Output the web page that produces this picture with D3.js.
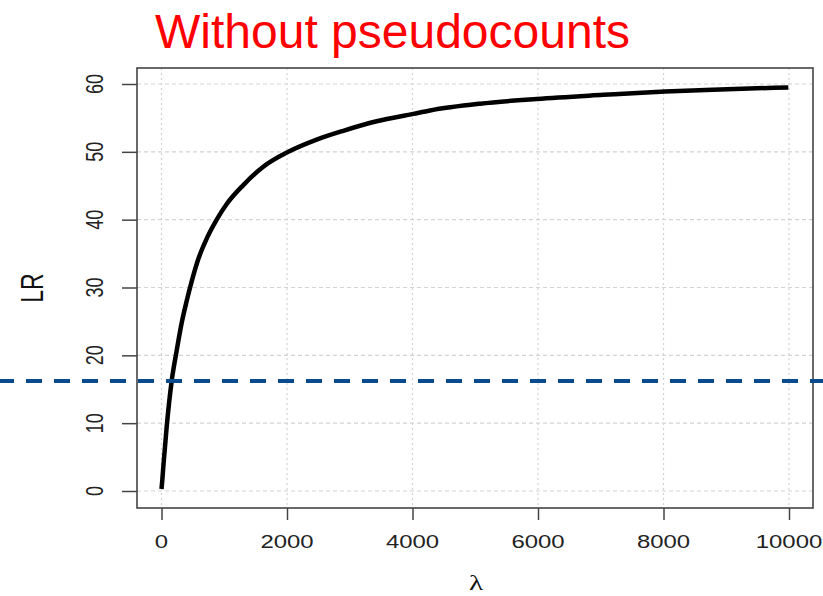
<!DOCTYPE html>
<html>
<head>
<meta charset="utf-8">
<script src="https://cdn.jsdelivr.net/npm/d3@7"></script>
<style>
  html, body { margin: 0; padding: 0; background: #fff; }
  svg { display: block; }
</style>
</head>
<body>
<svg id="chart" width="823" height="596"></svg>
<script>
// Likelihood ratio as a function of lambda
const lambdaValues = [0, 10, 29, 83, 162, 242, 322, 401, 481, 587, 720, 880, 1039, 1304, 1622, 2021, 2473, 2897, 3429, 4013, 4279, 5076, 5979, 7040, 8024, 8901, 9989];
const lrValues     = [0.3, 1.3, 3.6, 9.5, 16.2, 20.7, 24.8, 28.0, 30.9, 34.2, 37.2, 40.0, 42.3, 45.1, 47.8, 50.0, 51.8, 53.1, 54.5, 55.6, 56.1, 57.1, 57.8, 58.4, 58.9, 59.2, 59.5];

const xTicks = [0, 2000, 4000, 6000, 8000, 10000];
const yTicks = [0, 10, 20, 30, 40, 50, 60];
const threshold = 16.2;

const titleText = "Without pseudocounts";
const xLabel = "\u03bb";
const yLabel = "LR";

const svg = d3.select("#chart");
const box = { left: 137, right: 813, top: 68, bottom: 508 };
const sx = 1.33; // horizontal stretch of axis text

const x = d3.scaleLinear().domain([0, 10000]).range([161.5, 789]);
const y = d3.scaleLinear().domain([0, 60]).range([491, 84]);

// Grid
const grid = svg.append("g");
grid.selectAll("line.vg").data(xTicks).join("line")
  .attr("x1", d => x(d)).attr("x2", d => x(d))
  .attr("y1", box.top).attr("y2", box.bottom)
  .attr("stroke", "#d3d3d3").attr("stroke-width", 1.2)
  .attr("stroke-dasharray", "2,3");
grid.selectAll("line.hg").data(yTicks).join("line")
  .attr("x1", box.left).attr("x2", box.right)
  .attr("y1", d => y(d)).attr("y2", d => y(d))
  .attr("stroke", "#d3d3d3").attr("stroke-width", 1.2)
  .attr("stroke-dasharray", "4,3");

// Axes (ticks only; the frame is drawn separately)
const xAxis = svg.append("g").attr("transform", `translate(0,${box.bottom})`)
  .call(d3.axisBottom(x).tickValues(xTicks).tickSize(12).tickFormat(""));
const yAxis = svg.append("g").attr("transform", `translate(${box.left},0)`)
  .call(d3.axisLeft(y).tickValues(yTicks).tickSize(15).tickFormat(""));
[xAxis, yAxis].forEach(a => {
  a.select(".domain").remove();
  a.selectAll(".tick line").attr("stroke", "#444").attr("stroke-width", 1.5);
});

// Tick labels
svg.append("g").selectAll("text").data(xTicks).join("text")
  .attr("transform", d => `translate(${x(d)},548) scale(${sx},1)`)
  .attr("text-anchor", "middle")
  .attr("font-family", "Liberation Sans, Arial, sans-serif")
  .attr("font-size", 18).attr("fill", "#222")
  .text(d => d);
svg.append("g").selectAll("text").data(yTicks).join("text")
  .attr("transform", d => `translate(103,${y(d)}) scale(${sx},1) rotate(-90)`)
  .attr("text-anchor", "middle")
  .attr("font-family", "Liberation Sans, Arial, sans-serif")
  .attr("font-size", 18).attr("fill", "#222")
  .text(d => d);

// Frame
svg.append("rect")
  .attr("x", box.left).attr("y", box.top)
  .attr("width", box.right - box.left).attr("height", box.bottom - box.top)
  .attr("fill", "none").attr("stroke", "#444").attr("stroke-width", 1.6);

// Curve
const pts = lambdaValues.map((l, i) => [l, lrValues[i]]);
svg.append("path")
  .datum(pts)
  .attr("d", d3.line().x(d => x(d[0])).y(d => y(d[1])).curve(d3.curveMonotoneX))
  .attr("fill", "none").attr("stroke", "#000").attr("stroke-width", 4.5)
  .attr("stroke-linejoin", "round");

// Threshold line across the full width
svg.append("line")
  .attr("x1", 0).attr("x2", 823)
  .attr("y1", y(threshold)).attr("y2", y(threshold))
  .attr("stroke", "#0a4b8e").attr("stroke-width", 4)
  .attr("stroke-dasharray", "16,12").attr("stroke-dashoffset", 2);

// Axis titles
svg.append("text")
  .attr("transform", `translate(43,${(box.top + box.bottom) / 2}) scale(${sx},1) rotate(-90)`)
  .attr("text-anchor", "middle")
  .attr("font-family", "Liberation Sans, Arial, sans-serif")
  .attr("font-size", 23).attr("fill", "#111")
  .text(yLabel);
svg.append("text")
  .attr("transform", `translate(476,590) scale(${sx},1)`)
  .attr("text-anchor", "middle")
  .attr("font-family", "Liberation Serif, DejaVu Serif, serif")
  .attr("font-size", 22).attr("fill", "#111")
  .text(xLabel);

// Title
svg.append("text")
  .attr("x", 155).attr("y", 48)
  .attr("font-family", "Liberation Sans, Arial, sans-serif")
  .attr("font-size", 48).attr("fill", "#ff0000")
  .text(titleText);
</script>
</body>
</html>
